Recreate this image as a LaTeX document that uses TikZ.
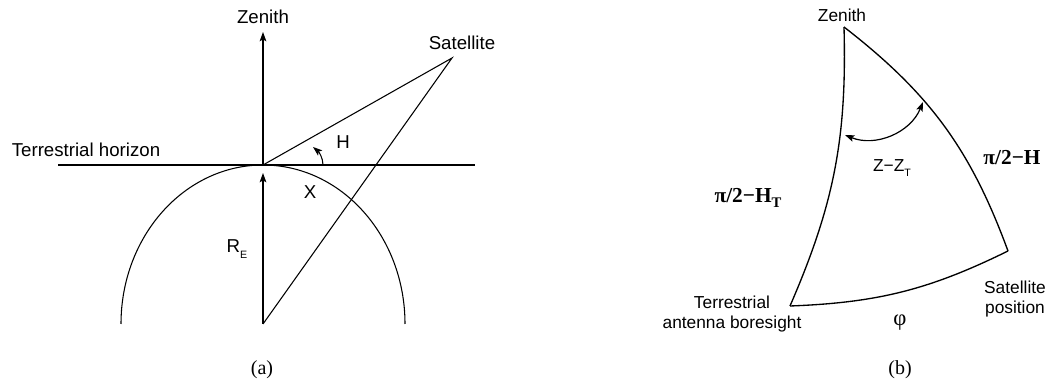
\documentclass[tikz,border=0pt]{standalone}
\usepackage{fontspec}
\setmainfont{Liberation Sans}
\newfontfamily\lserif{Liberation Serif}
\usetikzlibrary{arrows.meta}
\tikzset{
  ln/.style={line width=0.8pt},
  arr/.style={line width=0.8pt,-{Stealth[length=7pt,width=5pt,inset=1.5pt]}},
  darr/.style={line width=0.9pt,{Stealth[length=7pt,width=5pt,inset=1.5pt]}-{Stealth[length=7pt,width=5pt,inset=1.5pt]}},
  lbl/.style={inner sep=0pt,font=\fontsize{14}{16}\selectfont},
  lblb/.style={inner sep=0pt,font=\fontsize{13}{15}\selectfont,align=center},
  sertxt/.style={inner sep=0pt,font=\lserif\bfseries\fontsize{16}{18}\selectfont},
  captxt/.style={inner sep=0pt,font=\lserif\fontsize{15}{17}\selectfont},
}
\begin{document}
\begin{tikzpicture}[x=0.75pt,y=0.75pt]
\useasboundingbox (0,0) rectangle (1058,-384);
% ---------- (a) ----------
\coordinate (T) at (263,-165);
\coordinate (C) at (263,-324);
\coordinate (S) at (452,-58);
\coordinate (Ztip) at (263,-32);
\coordinate (Rtip) at (263,-173);
\coordinate (HL) at (58,-165);
\coordinate (HR) at (475,-165);
\coordinate (EL) at (121,-324);
\coordinate (Ha) at (323,-165);
\coordinate (Hb) at (313,-147);
\node[lbl] (zen) at (263,-17) {Zenith};
\node[lbl] (sat) at (462,-43) {Satellite};
\node[lbl] (hor) at (86,-150) {Terrestrial horizon};
\node[lbl] (hh) at (343,-142) {H};
\node[lbl] (xx) at (310,-192) {X};
\node[lbl] (re) at (237,-249) {R\raisebox{-0.6ex}{\fontsize{8}{9}\selectfont E}};
\node[captxt] (capa) at (262,-370) {(a)};
\draw[ln] (HL) -- (HR);
\draw[arr] (T) -- (Ztip);
\draw[arr] (C) -- (Rtip);
\draw[ln] (T) -- (S) -- (C);
\draw[ln] (EL) arc[start angle=180,end angle=0,x radius=106.5pt,y radius=119.25pt];
\draw[arr] (Ha) .. controls (323,-158) and (319,-152) .. (Hb);
% ---------- (b) ----------
\coordinate (Zb) at (844,-27);
\coordinate (Tb) at (790,-306);
\coordinate (Sb) at (1008,-251);
\coordinate (A1) at (923,-102);
\coordinate (A2) at (845,-135);
\node[lblb] (zenb) at (842,-15) {Zenith};
\node[lblb] (zz) at (892,-168) {Z−Z\raisebox{-0.6ex}{\fontsize{8}{9}\selectfont T}};
\node[sertxt] (ph) at (1012,-158) {π/2−H};
\node[sertxt] (pht) at (748,-198) {π/2−H\raisebox{-0.5ex}{\fontsize{11}{12}\selectfont T}};
\node[lblb] (tab) at (732,-314) {Terrestrial\\antenna boresight};
\node[lblb] (sp) at (1015,-299) {Satellite\\position};
\node[inner sep=0pt,font=\lserif\fontsize{17}{19}\selectfont] (phi) at (900,-323) {φ};
\node[captxt] (capb) at (900,-370) {(b)};
\draw[line width=1pt] (Zb) to[bend left=12.5] (Tb);
\draw[line width=1pt] (Zb) to[bend left=16] (Sb);
\draw[line width=1pt] (Tb) to[bend right=12] (Sb);
\draw[darr] (A1) to[bend left=45] (A2);
\end{tikzpicture}
\end{document}
